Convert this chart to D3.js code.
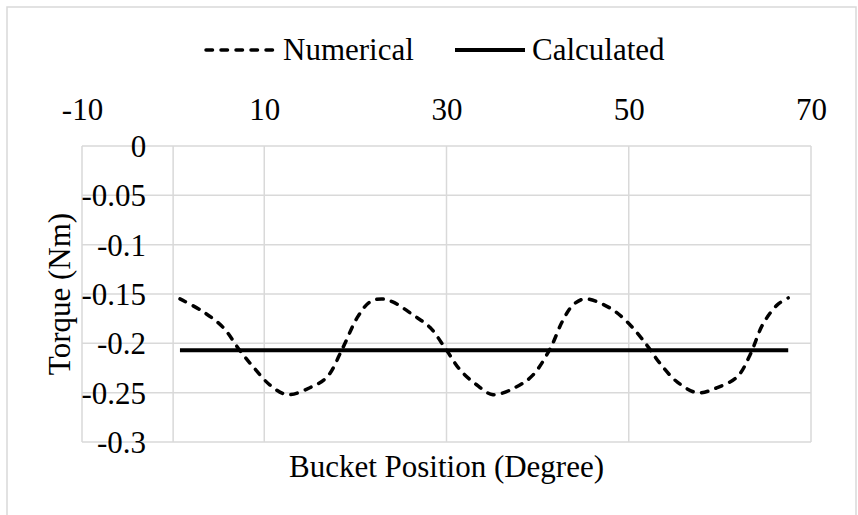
<!DOCTYPE html>
<html lang="en">
  <head>
    <meta charset="UTF-8" />
    <title>Torque vs Bucket Position</title>
    <script src="https://cdn.jsdelivr.net/npm/d3@7"></script>
    <style>
      body { margin: 0; background: #fff; }
      svg { display: block; }
    </style>
  </head>
  <body>
    <svg width="858" height="515" font-family="Liberation Serif, DejaVu Serif, serif"></svg>
    <script>
      // data
      const numericalX = [0.75, 3.3, 5.5, 7.3, 8.8, 10.6, 12.5, 15.0, 16.9, 18.6, 20.2, 21.6, 22.9,
        24.1, 26.3, 28.2, 30.0, 31.5, 33.3, 35.1, 37.7, 39.5, 41.4, 42.7, 43.9, 45.2,
        47.9, 49.8, 52.0, 53.4, 55.3, 57.5, 59.7, 61.9, 63.3, 64.7, 66.3, 67.5];
      const numericalY = [-0.155, -0.168, -0.184, -0.207, -0.224, -0.242, -0.252, -0.245, -0.234, -0.205, -0.174, -0.158, -0.155,
        -0.158, -0.171, -0.184, -0.207, -0.227, -0.242, -0.252, -0.244, -0.232, -0.205, -0.178, -0.161, -0.155,
        -0.164, -0.178, -0.202, -0.220, -0.239, -0.250, -0.245, -0.234, -0.212, -0.181, -0.161, -0.154];
      const calculatedX = [0.75, 67.5];
      const calculatedY = [-0.207, -0.207];
      const xTicks = [-10, 10, 30, 50, 70];
      const yTicks = [0, -0.05, -0.1, -0.15, -0.2, -0.25, -0.3];
      const seriesNames = ["Numerical", "Calculated"];

      const font = "Liberation Serif";
      const fontSize = 31;
      const grid = "#d9d9d9";
      const dash = "6.5,8.5";

      const svg = d3.select("svg");

      // outer chart border (cut off at the bottom like the original)
      svg.append("rect")
        .attr("x", 7).attr("y", 7)
        .attr("width", 849).attr("height", 530)
        .attr("fill", "none")
        .attr("stroke", grid)
        .attr("stroke-width", 1.5);

      const x = d3.scaleLinear().domain([-10, 70]).range([82, 811]);
      const y = d3.scaleLinear().domain([-0.3, 0]).range([442, 146]);

      // gridlines
      svg.append("g").selectAll("line").data(yTicks).join("line")
        .attr("x1", x(-10)).attr("x2", x(70))
        .attr("y1", d => y(d)).attr("y2", d => y(d))
        .attr("stroke", grid).attr("stroke-width", 1.5);

      svg.append("g").selectAll("line").data(xTicks).join("line")
        .attr("x1", d => x(d)).attr("x2", d => x(d))
        .attr("y1", y(0)).attr("y2", y(-0.3))
        .attr("stroke", grid).attr("stroke-width", 1.5);

      // vertical axis sits at x = 0
      svg.append("line")
        .attr("x1", x(0)).attr("x2", x(0))
        .attr("y1", y(0)).attr("y2", y(-0.3))
        .attr("stroke", grid).attr("stroke-width", 1.5);

      // x tick labels on top
      const xAxis = svg.append("g")
        .attr("transform", `translate(0,${y(0)})`)
        .call(d3.axisTop(x).tickValues(xTicks).tickSize(0).tickPadding(26).tickFormat(d => String(d)));
      xAxis.select(".domain").remove();

      // y tick labels left of the x = 0 axis
      const yAxis = svg.append("g")
        .attr("transform", `translate(${x(0)},0)`)
        .call(d3.axisLeft(y).tickValues(yTicks).tickSize(0).tickPadding(27).tickFormat(d => String(d)));
      yAxis.select(".domain").remove();
      yAxis.selectAll("text").attr("dy", "0.34em");
      // d3 axes put a sans-serif font on their group
      svg.selectAll(".tick").select(function() { return this.parentNode; })
        .attr("font-family", null).attr("font-size", null);

      // series
      const line = d3.line()
        .x(d => x(d[0]))
        .y(d => y(d[1]))
        .curve(d3.curveCatmullRom);

      svg.append("path")
        .attr("d", line(d3.zip(calculatedX, calculatedY)))
        .attr("fill", "none")
        .attr("stroke", "#000")
        .attr("stroke-width", 4);

      svg.append("path")
        .attr("d", line(d3.zip(numericalX, numericalY)))
        .attr("fill", "none")
        .attr("stroke", "#000")
        .attr("stroke-width", 3.5)
        .attr("stroke-dasharray", dash)
        .attr("stroke-linecap", "round");

      // axis titles
      svg.append("text")
        .attr("x", (x(-10) + x(70)) / 2)
        .attr("y", 477)
        .attr("text-anchor", "middle")
        .text("Bucket Position (Degree)");

      svg.append("text")
        .attr("transform", `translate(70,${(y(0) + y(-0.3)) / 2}) rotate(-90)`)
        .attr("text-anchor", "middle")
        .text("Torque (Nm)");

      // legend
      const legend = [
        { name: seriesNames[0], x1: 206, x2: 276, dashed: true },
        { name: seriesNames[1], x1: 455, x2: 525, dashed: false }
      ];
      const lg = svg.append("g").selectAll("g").data(legend).join("g");
      lg.append("line")
        .attr("x1", d => d.x1).attr("x2", d => d.x2)
        .attr("y1", 50).attr("y2", 50)
        .attr("stroke", "#000")
        .attr("stroke-width", d => d.dashed ? 3.5 : 4)
        .attr("stroke-dasharray", d => d.dashed ? dash : null)
        .attr("stroke-linecap", d => d.dashed ? "round" : "butt");
      lg.append("text")
        .attr("x", d => d.x2 + 7)
        .attr("y", 60)
        .text(d => d.name);

      svg.selectAll("text")
        .attr("font-family", font)
        .attr("font-size", fontSize)
        .attr("fill", "#000");
    </script>
  </body>
</html>
